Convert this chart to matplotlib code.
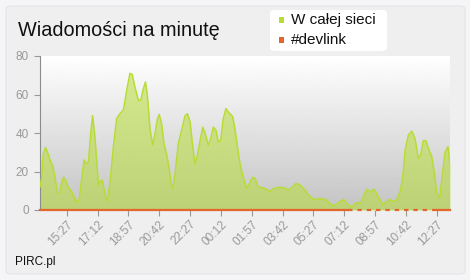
import numpy as np
import matplotlib
matplotlib.use('Agg')
import matplotlib.pyplot as plt
from matplotlib.patches import FancyBboxPatch, Rectangle

plt.rcParams['font.family'] = ['Liberation Sans', 'DejaVu Sans']

# dane: minuty od 13:56, wiadomosci na minute
minutes = [0, 6, 11, 19, 28, 34, 43, 51, 59, 66, 72, 80, 87, 97, 108, 119, 127, 134,
           142, 150, 157, 165, 173, 179, 187, 199, 204, 212, 221, 229, 238, 250, 261,
           272, 284, 295, 306, 314, 323, 335, 343, 352, 359, 365, 375, 384, 392, 400,
           406, 414, 422, 431, 439, 446, 452, 460, 471, 482, 494, 502, 511, 520, 528,
           536, 545, 554, 562, 573, 581, 590, 599, 607, 615, 624, 633, 641, 647, 656,
           664, 672, 681, 692, 704, 713, 724, 732, 743, 755, 766, 781, 795, 812, 829,
           846, 857, 872, 885, 902, 919, 936, 953, 976, 987, 999, 1016, 1033, 1050,
           1061, 1076, 1092, 1101, 1112, 1124, 1138, 1152, 1167, 1180, 1189, 1203,
           1214, 1226, 1235, 1243, 1254, 1266, 1277, 1288, 1296, 1305, 1314, 1325,
           1334, 1343, 1351, 1361, 1369, 1379, 1389, 1396]
all_msgs = [12, 17, 29, 32.5, 29, 26, 23, 17, 9.5, 8.6, 13, 17, 15.5, 11.7, 9.5, 6, 3.8, 6,
            16.4, 26, 24, 25, 40, 49, 38, 13, 14.7, 15.5, 8.6, 4.3, 13.8, 33, 47.5,
            50, 52, 62, 71, 70.5, 64, 57, 57, 63, 66.5, 60.5, 41.5, 33.7, 40, 47.5,
            49.6, 45, 34.5, 29, 22.5, 13.8, 11.2, 19, 34.5, 41.5, 49, 50, 45.8, 33, 24,
            28.5, 36, 43, 40, 33.7, 37, 43, 41.5, 35.4, 36, 47.5, 52.7, 51, 50, 48.5,
            42, 33, 24, 17, 11.2, 13.8, 17, 16.4, 12, 11.7, 11.2, 9.5, 11.2, 11.7, 11.7,
            10.4, 11.6, 13.8, 13, 10.4, 6.9, 5.5, 6, 5.2, 3.5, 2, 3.8, 5.5, 2.6,
            1.4, 3.8, 3.5, 6.9, 10.7, 9.5, 10.7, 6.9, 2.9, 4.3, 5.5, 4.3,
            5.2, 9.5, 17, 31, 38.9, 41, 37, 26.8, 28.5, 36, 36, 31,
            27.6, 19, 8.6, 6, 17, 30, 32.8, 24]
devlink = [0.0] * len(minutes)
devlink_sparse_from = 1050   # od tego miejsca #devlink ma przerwy
devlink_sparse_to = 1351

tick_labels = ['15:27', '17:12', '18:57', '20:42', '22:27', '00:12', '01:57',
               '03:42', '05:27', '07:12', '08:57', '10:42', '12:27']
start = 13 * 60 + 56
span = 1396

def to_min(s):
    h, m = map(int, s.split(':'))
    v = h * 60 + m - start
    return v if v >= 0 else v + 1440

ticks = [to_min(s) for s in tick_labels]

green = '#b8dc36'
orange = '#e2662e'

fig = plt.figure(figsize=(4.7, 2.8), dpi=100)
fig.patch.set_facecolor('#f5f5f8')
fig.patches.append(FancyBboxPatch((6 / 470, 6 / 280), 459 / 470, 268 / 280,
                                  boxstyle='round,pad=0,rounding_size=0.012',
                                  transform=fig.transFigure, fc='#efefef',
                                  ec='#e4e4e8', lw=0.8, zorder=-5))

ax = fig.add_axes([40 / 470, 70 / 280, 410 / 470, 154 / 280])
ax.set_facecolor('none')
grad = np.linspace(1, 0, 256).reshape(-1, 1)
ax.imshow(grad, extent=[0, span, 0, 80], aspect='auto', cmap='gray',
          vmin=-3.3, vmax=1, zorder=0)

t = np.array(minutes)
y = np.array(all_msgs)
ax.fill_between(t, y, 0, color=green, alpha=0.55, lw=0, zorder=2)
ax.plot(t, y, color=green, lw=1.1, zorder=3)

d = np.array(devlink)
m1 = t <= devlink_sparse_from
m2 = (t >= devlink_sparse_from) & (t <= devlink_sparse_to)
m3 = t >= devlink_sparse_to
ax.plot(t[m1], d[m1], color=orange, lw=1.6, zorder=4, clip_on=False)
ax.plot(t[m2], d[m2], color=orange, lw=1.6, zorder=4, clip_on=False,
        dashes=(2, 2.2))
ax.plot(t[m3], d[m3], color=orange, lw=1.6, zorder=4, clip_on=False)

ax.set_xlim(0, span)
ax.set_ylim(0, 80)
ax.set_yticks([0, 20, 40, 60, 80])
ax.set_xticks(ticks)
ax.set_xticklabels(tick_labels, rotation=45, ha='right', va='top',
                   rotation_mode='anchor')
ax.tick_params(axis='both', colors='#999999', labelsize=8.5, length=4, width=0.8)
ax.tick_params(axis='x', pad=2)
ax.tick_params(axis='y', pad=4)
for s in ['top', 'right', 'bottom']:
    ax.spines[s].set_visible(False)
ax.spines['left'].set_color('#8c8c8c')

fig.text(18 / 470, 1 - 36 / 280, 'Wiadomości na minutę', fontsize=14.3,
         color='#111111', va='baseline')

fig.patches.append(FancyBboxPatch((270 / 470, 1 - 51 / 280), 117 / 470, 41 / 280,
                                  boxstyle='round,pad=0,rounding_size=0.012',
                                  transform=fig.transFigure, fc='white', ec='none'))
for i, (lab, c) in enumerate([('W całej sieci', green), ('#devlink', orange)]):
    yy = 20 + i * 20
    fig.patches.append(Rectangle((279 / 470, 1 - (yy + 2.5) / 280), 5 / 470, 5 / 280,
                                 transform=fig.transFigure, fc=c, ec='none'))
    fig.text(291 / 470, 1 - yy / 280, lab, fontsize=11, color='#111111',
             va='center')

fig.text(15 / 470, 1 - 262 / 280, 'PIRC.pl', fontsize=8.5, color='#111111',
         va='center')

fig.savefig('out.png', dpi=100, facecolor=fig.get_facecolor())
